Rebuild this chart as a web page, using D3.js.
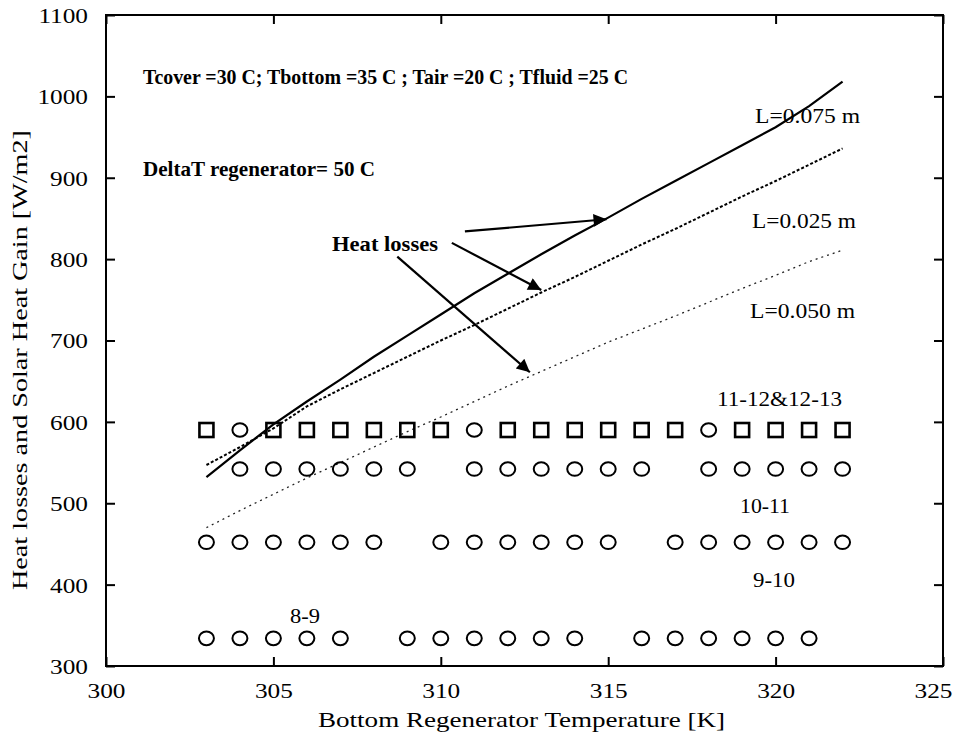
<!DOCTYPE html>
<html>
<head>
<meta charset="utf-8">
<script src="https://cdn.jsdelivr.net/npm/d3@7"></script>
<style>
  html, body { margin: 0; padding: 0; background: #fff; }
  svg { display: block; }
  text { font-family: "Liberation Serif", "Times New Roman", serif; fill: #000; }
</style>
</head>
<body>
<svg id="chart" width="956" height="737"></svg>
<script>
// Bottom regenerator temperature [K] for the hourly solar gain markers
const tempsGain = [303, 304, 305, 306, 307, 308, 309, 310, 311, 312, 313, 314, 315, 316, 317, 318, 319, 320, 321, 322];

// Solar heat gain [W/m2] per hour interval (null = no marker)
const gain1113 = [590, 590, 590, 590, 590, 590, 590, 590, 590, 590, 590, 590, 590, 590, 590, 590, 590, 590, 590, 590];
const gain1113Shape = ["s", "c", "s", "s", "s", "s", "s", "s", "c", "s", "s", "s", "s", "s", "s", "c", "s", "s", "s", "s"];
const gain1011 = [null, 542, 542, 542, 542, 542, 542, null, 542, 542, 542, 542, 542, 542, null, 542, 542, 542, 542, 542];
const gain910  = [452, 452, 452, 452, 452, 452, null, 452, 452, 452, 452, 452, 452, null, 452, 452, 452, 452, 452, 452];
const gain89   = [334, 334, 334, 334, 334, null, 334, 334, 334, 334, 334, 334, null, 334, 334, 334, 334, 334, 334, null];

// Heat losses [W/m2] vs bottom temperature for three gap widths
const lossTemps = [303, 304, 305, 306, 307, 308, 309, 310, 311, 312, 313, 314, 315, 316, 317, 318, 319, 320, 321, 322];
const loss075 = [532, 565, 597, 625, 652, 680, 706, 732, 758, 782, 806, 829, 851, 874, 896, 918, 940, 962, 988, 1018];
const loss025 = [547, 569, 592, 619, 640, 660, 680, 700, 719, 739, 759, 778, 798, 818, 837, 857, 877, 896, 916, 936];
const loss050 = [470, 491, 511, 531, 550, 569, 588, 606, 625, 644, 662, 680, 698, 714, 730, 747, 764, 780, 797, 811];

// Axis ticks
const xTicks = [300, 305, 310, 315, 320, 325];
const yTicks = [300, 400, 500, 600, 700, 800, 900, 1000, 1100];

// Arrows pointing from the "Heat losses" note to the curves: [x0, y0, x1, y1]
const arrows = [
  [310.72, 834, 314.95, 849],
  [310.33, 820, 313.0, 762],
  [308.7, 803, 312.66, 661]
];

const svg = d3.select("#chart");
const padL = 106, padR = 943, padT = 15, padB = 666;

const x = d3.scaleLinear().domain([300, 325]).range([padL, padR]);
const y = d3.scaleLinear().domain([300, 1100]).range([padB, padT]);

// Frame
svg.append("rect")
  .attr("x", padL).attr("y", padT)
  .attr("width", padR - padL).attr("height", padB - padT)
  .attr("fill", "none").attr("stroke", "#000").attr("stroke-width", 2);

const tickLen = 9;
// Axes with inward ticks
const axL = svg.append("g").attr("transform", `translate(${padL},0)`)
  .call(d3.axisLeft(y).tickValues(yTicks).tickSize(-tickLen).tickFormat(d3.format("d")));
const axR = svg.append("g").attr("transform", `translate(${padR},0)`)
  .call(d3.axisRight(y).tickValues(yTicks).tickSize(-tickLen).tickFormat(""));
const axB = svg.append("g").attr("transform", `translate(0,${padB})`)
  .call(d3.axisBottom(x).tickValues(xTicks).tickSize(-tickLen).tickFormat(d3.format("d")));
const axT = svg.append("g").attr("transform", `translate(0,${padT})`)
  .call(d3.axisTop(x).tickValues(xTicks).tickSize(-tickLen).tickFormat(""));

[axL, axR, axB, axT].forEach(g => {
  g.select(".domain").remove();
  g.selectAll(".tick line").attr("stroke", "#000").attr("stroke-width", 2);
});

// Tick labels: slightly wide serif digits
axL.selectAll(".tick text")
  .attr("font-size", 22).attr("font-family", "Liberation Serif")
  .attr("text-anchor", "end").attr("x", 0).attr("dy", "0.34em")
  .attr("transform", "translate(-18,0) scale(1.15,1)");
axB.selectAll(".tick text")
  .attr("font-size", 22).attr("font-family", "Liberation Serif")
  .attr("y", 0).attr("dy", 0)
  .attr("transform", (d) => d === 325 ? "translate(-10,32) scale(1.15,1)" : "translate(0,32) scale(1.15,1)");

// Axis titles
svg.append("text")
  .attr("x", 318).attr("y", 727)
  .attr("font-size", 21)
  .attr("textLength", 407).attr("lengthAdjust", "spacingAndGlyphs")
  .text("Bottom Regenerator Temperature [K]");
svg.append("text")
  .attr("transform", `translate(27,590) rotate(-90)`)
  .attr("font-size", 21)
  .attr("textLength", 460).attr("lengthAdjust", "spacingAndGlyphs")
  .text("Heat losses and Solar Heat Gain [W/m2]");

// Heat-loss curves
const line = d3.line().x((d, i) => x(lossTemps[i])).y(d => y(d));
svg.append("path").datum(loss075).attr("d", line)
  .attr("fill", "none").attr("stroke", "#000").attr("stroke-width", 2.2);
svg.append("path").datum(loss025).attr("d", line)
  .attr("fill", "none").attr("stroke", "#000").attr("stroke-width", 2)
  .attr("stroke-dasharray", "3,2");
svg.append("path").datum(loss050).attr("d", line)
  .attr("fill", "none").attr("stroke", "#222").attr("stroke-width", 1.3)
  .attr("stroke-dasharray", "2,4");

// Solar gain markers
function drawRow(values, shapes) {
  const g = svg.append("g");
  values.forEach((v, i) => {
    if (v == null) return;
    const cx = x(tempsGain[i]), cy = y(v);
    const shape = shapes ? shapes[i] : "c";
    if (shape === "s") {
      g.append("rect").attr("x", cx - 7).attr("y", cy - 7)
        .attr("width", 14).attr("height", 14)
        .attr("fill", "none").attr("stroke", "#000").attr("stroke-width", 2.6);
    } else {
      g.append("ellipse").attr("cx", cx).attr("cy", cy)
        .attr("rx", 7.5).attr("ry", 6.8)
        .attr("fill", "none").attr("stroke", "#000").attr("stroke-width", 2);
    }
  });
}
drawRow(gain1113, gain1113Shape);
drawRow(gain1011);
drawRow(gain910);
drawRow(gain89);

// Arrowhead marker
svg.append("defs").append("marker")
  .attr("id", "head").attr("viewBox", "0 0 10 10")
  .attr("refX", 10).attr("refY", 5)
  .attr("markerWidth", 18).attr("markerHeight", 13)
  .attr("markerUnits", "userSpaceOnUse")
  .attr("orient", "auto")
  .append("path").attr("d", "M0,0 L10,5 L0,10 Z").attr("fill", "#000");

arrows.forEach(a => {
  svg.append("line")
    .attr("x1", x(a[0])).attr("y1", y(a[1]))
    .attr("x2", x(a[2])).attr("y2", y(a[3]))
    .attr("stroke", "#000").attr("stroke-width", 2.2)
    .attr("marker-end", "url(#head)");
});

// Notes
svg.append("text").attr("x", 143).attr("y", 84)
  .attr("font-size", 21).attr("font-weight", "bold")
  .attr("textLength", 485).attr("lengthAdjust", "spacingAndGlyphs")
  .text("Tcover =30 C;  Tbottom =35 C ;  Tair =20 C ;  Tfluid =25 C");
svg.append("text").attr("x", 143).attr("y", 176)
  .attr("font-size", 21).attr("font-weight", "bold")
  .attr("textLength", 232).attr("lengthAdjust", "spacingAndGlyphs")
  .text("DeltaT  regenerator= 50 C");
svg.append("text").attr("x", 332).attr("y", 251)
  .attr("font-size", 21).attr("font-weight", "bold")
  .attr("textLength", 106).attr("lengthAdjust", "spacingAndGlyphs")
  .text("Heat losses");

// Curve and interval labels: [text, x, baseline y, width]
const labels = [
  ["L=0.075 m", 755, 123, 105],
  ["L=0.025 m", 752, 228, 104],
  ["L=0.050 m", 750, 318, 105],
  ["11-12&12-13", 717, 406, 125],
  ["10-11", 740, 513, 50],
  ["9-10", 753, 587, 42],
  ["8-9", 290, 623, 30]
];
labels.forEach(l => {
  svg.append("text").attr("x", l[1]).attr("y", l[2])
    .attr("font-size", 21)
    .attr("textLength", l[3]).attr("lengthAdjust", "spacingAndGlyphs")
    .text(l[0]);
});
</script>
</body>
</html>
